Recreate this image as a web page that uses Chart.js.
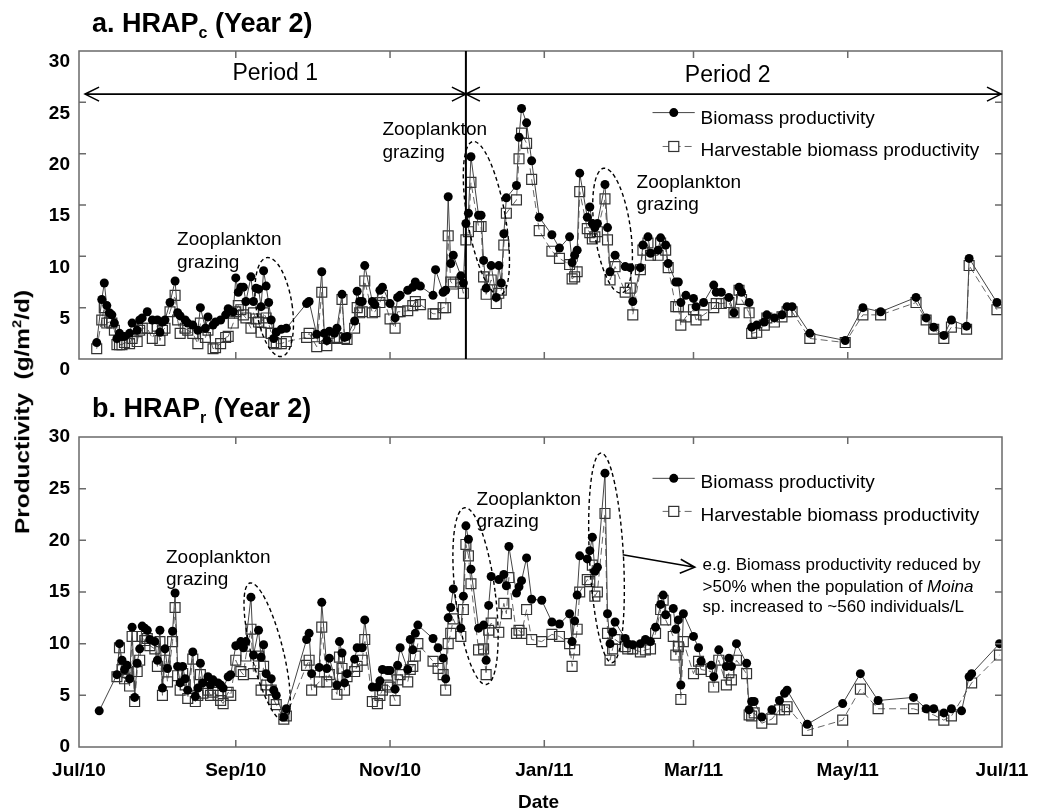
<!DOCTYPE html>
<html>
<head>
<meta charset="utf-8">
<script src="https://cdn.jsdelivr.net/npm/chart.js@4.4.0/dist/chart.umd.min.js"></script>
<style>
  body { margin: 0; background: #fff; }
  #wrap { position: relative; width: 1048px; height: 811px; font-family: Arial, "Liberation Sans", sans-serif; }
  canvas { position: absolute; left: 0; }
  .title { position: absolute; left: 92px; font-weight: bold; font-size: 27px; line-height: 27px; white-space: nowrap; z-index: 2; }
  .title span { font-size: 16px; position: relative; top: 6px; }
  #ytitle { position: absolute; left: 22px; top: 412px; transform: translate(-50%, -50%) rotate(-90deg) scaleX(1.22);
            font-weight: bold; font-size: 20px; white-space: nowrap; z-index: 2; }
  #ytitle sup { font-size: 12px; }
</style>
</head>
<body>
<div id="wrap">
  <div class="title" style="top:10px">a. HRAP<span>c</span> (Year 2)</div>
  <div class="title" style="top:395px">b. HRAP<span>r</span> (Year 2)</div>
  <div id="ytitle">Productivity&nbsp; (g/m<sup>2</sup>/d)</div>
  <canvas id="chartA" width="1048" height="380" style="top:0"></canvas>
  <canvas id="chartB" width="1048" height="431" style="top:380px"></canvas>
</div>
<script>
const FONT = 'Arial, "Liberation Sans", sans-serif';

// x = days since 1 Jul 2010
const tickDays = [0, 62, 123, 184, 243, 304, 365];
const tickLabels = ["Jul/10", "Sep/10", "Nov/10", "Jan/11", "Mar/11", "May/11", "Jul/11"];

// a. HRAPc
const daysA = [7, 9, 10, 11, 12, 13, 14, 15, 16, 17,
  18, 20, 21, 23, 24, 25, 27, 29, 31, 32,
  33, 34, 36, 38, 39, 40, 42, 43, 45, 47,
  48, 50, 51, 53, 54, 56, 58, 59, 61, 62,
  63, 64, 65, 66, 68, 69, 70, 71, 72, 73,
  74, 75, 76, 77, 78, 80, 82, 90, 91, 94,
  96, 97, 98, 99, 101, 102, 104, 105, 106, 109,
  110, 111, 112, 113, 116, 117, 119, 120, 123, 125,
  126, 127, 130, 132, 133, 135, 140, 141, 144, 145,
  146, 147, 148, 151, 152, 153, 154, 155, 158, 159,
  160, 161, 163, 165, 166, 167, 168, 169, 173, 174,
  175, 177, 179, 182, 187, 190, 194, 195, 196, 197,
  198, 201, 202, 203, 204, 205, 208, 209, 210, 212,
  216, 218, 219, 222, 223, 225, 226, 229, 230, 232,
  233, 236, 237, 238, 240, 243, 244, 247, 251, 252,
  254, 257, 259, 261, 262, 265, 266, 268, 271, 272,
  275, 278, 280, 282, 289, 303, 310, 317, 331, 335,
  338, 342, 345, 351, 352, 363];
const bioA = [1.6, 5.8, 7.4, 5.2, 4.5, 4.3, 3.5, 2.0, 2.5, 2.2,
  2.2, 2.5, 3.5, 2.8, 3.8, 4.0, 4.6, 3.8, 3.8, 2.6,
  3.6, 3.8, 5.5, 7.6, 4.5, 4.2, 3.8, 3.5, 3.3, 2.8,
  5.0, 3.0, 4.1, 3.3, 3.6, 3.8, 4.3, 4.9, 4.6, 7.9,
  6.5, 7.0, 7.0, 5.6, 8.0, 5.6, 6.9, 6.8, 5.1, 8.6,
  7.1, 5.5, 3.8, 2.0, 2.6, 2.9, 3.0, 5.4, 5.6, 2.4,
  8.5, 2.5, 1.8, 2.7, 2.5, 3.0, 6.3, 2.1, 2.2, 3.7,
  6.6, 5.6, 5.6, 9.1, 5.6, 5.3, 6.7, 7.0, 5.4, 4.0,
  6.0, 6.2, 6.7, 7.0, 7.5, 7.1, 6.2, 8.7, 6.5, 6.7,
  15.8, 9.3, 10.1, 8.1, 7.4, 13.2, 14.2, 19.7, 14.0, 14.0,
  9.6, 6.9, 9.1, 6.0, 9.1, 7.4, 12.2, 15.7, 16.9, 21.6,
  24.4, 23.0, 19.3, 13.8, 12.1, 10.8, 11.9, 9.4, 10.1, 10.6,
  18.1, 13.8, 14.8, 13.2, 12.8, 13.2, 17.0, 12.8, 8.5, 10.1,
  9.0, 8.9, 5.6, 8.9, 11.1, 11.9, 10.3, 10.6, 11.8, 11.1,
  9.3, 7.5, 7.5, 5.5, 6.2, 5.9, 5.1, 5.5, 7.2, 6.5,
  6.5, 6.0, 4.5, 7.0, 6.5, 5.5, 3.1, 3.3, 3.6, 4.3,
  4.0, 4.3, 5.1, 5.1, 2.5, 1.8, 5.0, 4.6, 6.0, 4.0,
  3.1, 2.3, 3.8, 3.2, 9.8, 5.5];
const harvA = [1.0, 3.8, 5.0, 3.5, 3.6, 3.5, 2.8, 1.4, 1.4, 1.4,
  1.6, 1.5, 2.0, 1.7, 2.8, 3.0, 3.0, 2.0, 3.2, 1.8,
  2.8, 3.0, 4.6, 6.2, 3.8, 2.5, 3.0, 2.8, 2.5, 1.5,
  3.5, 2.1, 2.8, 1.0, 1.1, 1.5, 2.1, 2.2, 3.5, 4.6,
  5.2, 4.8, 4.3, 4.0, 3.0, 4.5, 3.9, 3.6, 2.6, 4.5,
  4.0, 3.5, 2.5, 1.6, 1.5, 1.5, 1.7, 2.1, 2.5, 1.2,
  6.5, 2.0, 1.3, 2.0, 2.0, 2.1, 5.8, 2.0, 1.9, 3.0,
  5.0, 4.5, 4.6, 7.6, 4.5, 4.6, 5.5, 6.2, 3.9, 3.0,
  4.6, 4.6, 4.7, 5.2, 5.6, 5.3, 4.4, 4.4, 5.0, 5.0,
  12.0, 7.5, 7.3, 7.5, 6.4, 11.6, 12.4, 17.2, 12.9, 12.9,
  8.0, 6.3, 7.7, 5.4, 6.4, 6.7, 11.1, 14.2, 15.5, 19.5,
  22.0, 21.0, 17.5, 12.5, 10.5, 9.8, 9.2, 7.8, 8.0, 8.5,
  16.3, 12.7, 12.3, 11.7, 11.9, 12.4, 15.6, 11.6, 7.7, 9.0,
  6.5, 6.9, 4.3, 8.7, 10.6, 11.3, 10.1, 10.1, 11.3, 10.6,
  8.9, 5.1, 5.1, 3.3, 4.1, 4.8, 3.8, 4.3, 5.0, 5.4,
  5.4, 5.5, 4.5, 6.7, 5.8, 4.5, 2.5, 2.6, 3.3, 4.0,
  3.6, 4.1, 4.6, 4.6, 2.0, 1.6, 4.3, 4.3, 5.5, 3.8,
  2.9, 2.0, 3.1, 2.9, 9.1, 4.8];

// b. HRAPr
const daysB = [8, 15, 16, 17, 18, 19, 20, 21, 22, 23,
  24, 25, 26, 27, 28, 30, 31, 32, 33, 34,
  35, 37, 38, 39, 40, 41, 42, 43, 45, 46,
  47, 48, 49, 51, 52, 53, 55, 56, 57, 59,
  60, 62, 64, 65, 66, 68, 69, 71, 72, 73,
  74, 76, 77, 78, 81, 82, 90, 91, 92, 95,
  96, 98, 99, 102, 103, 104, 105, 106, 109, 110,
  112, 113, 116, 118, 119, 120, 122, 123, 125, 126,
  127, 130, 131, 132, 133, 134, 140, 142, 144, 145,
  146, 147, 148, 151, 152, 153, 154, 155, 158, 160,
  161, 162, 163, 166, 168, 169, 170, 173, 174, 175,
  177, 179, 183, 187, 190, 194, 195, 196, 197, 198,
  201, 202, 203, 204, 205, 208, 209, 210, 211, 212,
  216, 217, 219, 222, 224, 226, 228, 230, 231, 232,
  235, 236, 237, 238, 239, 243, 245, 246, 250, 251,
  253, 256, 257, 258, 260, 264, 265, 266, 267, 270,
  274, 277, 279, 280, 288, 302, 309, 316, 330, 335,
  338, 342, 345, 349, 352, 353, 364];
const bioB = [3.5, 7.0, 10.0, 8.4, 7.5, 7.9, 6.6, 11.6, 4.8, 8.1,
  9.5, 11.7, 11.5, 11.3, 10.4, 10.2, 8.4, 11.3, 5.7, 9.5,
  7.6, 11.2, 14.9, 7.8, 6.2, 7.8, 6.6, 5.5, 9.2, 4.9,
  5.7, 8.1, 6.2, 6.8, 6.0, 6.5, 6.2, 6.0, 5.7, 6.8,
  7.0, 9.8, 10.2, 9.6, 10.2, 14.5, 8.9, 11.3, 8.7, 9.9,
  7.1, 6.6, 5.5, 5.0, 2.9, 3.7, 10.4, 11.0, 7.1, 7.7,
  14.0, 7.6, 8.6, 6.0, 10.2, 9.1, 6.2, 7.1, 8.5, 9.6,
  9.6, 12.3, 5.8, 5.8, 6.4, 7.5, 7.4, 7.4, 5.6, 7.9,
  9.6, 7.5, 10.4, 9.4, 11.0, 11.8, 10.5, 9.6, 8.6, 6.6,
  12.5, 13.5, 15.3, 11.5, 14.6, 21.4, 20.1, 17.2, 11.5, 11.8,
  8.4, 13.7, 16.5, 16.2, 16.7, 15.6, 19.4, 14.9, 15.5, 16.1,
  18.3, 14.3, 14.2, 12.1, 11.9, 12.9, 10.2, 12.2, 14.7, 18.5,
  18.2, 19.0, 20.3, 17.0, 17.4, 26.5, 12.9, 10.0, 11.1, 12.1,
  10.5, 10.0, 9.9, 10.0, 10.4, 10.2, 11.6, 13.8, 14.7, 12.8,
  13.4, 11.4, 12.3, 6.0, 12.9, 10.7, 9.6, 8.3, 7.9, 6.8,
  9.4, 7.8, 8.6, 7.8, 10.0, 8.1, 3.6, 4.4, 4.4, 2.9,
  3.6, 4.5, 5.2, 5.5, 2.2, 4.2, 7.1, 4.5, 4.8, 3.7,
  3.7, 3.3, 3.7, 3.5, 6.8, 7.1, 10.0];
const harvB = [null, 6.8, 9.6, 7.5, 6.6, 7.2, 5.9, 10.7, 4.4, 7.3,
  8.4, 10.7, 10.3, 10.5, 9.8, 9.5, 7.8, 10.2, 5.0, 8.4,
  6.3, 10.2, 13.5, 6.9, 5.5, 7.1, 6.0, 4.7, 8.5, 4.4,
  5.0, 7.0, 5.2, 5.5, 5.0, 5.3, 5.0, 4.5, 4.2, 5.3,
  5.0, 8.4, 7.3, 7.0, 8.8, 11.4, 7.1, 8.8, 5.5, 7.8,
  6.0, 5.5, 4.6, 4.1, 2.7, 3.0, 7.9, 8.4, 5.5, 6.3,
  11.6, 6.3, 7.0, 5.1, 8.7, 7.6, 5.5, 6.8, 7.3, 7.8,
  8.4, 10.4, 4.4, 4.2, 5.0, 5.5, 6.0, 5.8, 4.5, 6.5,
  7.0, 6.3, 7.5, 7.8, 8.8, 10.0, 8.3, 7.6, 7.0, 5.5,
  10.0, 11.0, 12.4, 10.7, 13.3, 19.6, 18.5, 15.8, 9.4, 9.5,
  7.0, 11.3, 12.0, 11.1, 13.9, 12.9, 16.4, 11.0, 11.3, 11.0,
  13.3, 10.4, 10.2, 10.9, 10.7, 10.0, 7.8, 9.4, 11.4, 15.0,
  16.2, 16.0, 17.6, 14.6, 15.0, 22.6, 11.0, 8.4, 9.5, 10.4,
  9.7, 9.5, 9.5, 9.2, 9.4, 9.5, 11.0, 13.3, 14.2, 12.3,
  10.7, 8.9, 9.7, 4.6, 10.2, 7.1, 8.3, 7.5, 7.3, 5.8,
  8.4, 6.0, 7.2, 6.5, 8.4, 7.1, 3.1, 3.0, 3.3, 2.3,
  2.7, 3.6, 3.6, 3.9, 1.6, 2.6, 5.6, 3.7, 3.7, null,
  3.1, 2.6, 3.0, null, null, 6.2, 8.9];

function X(ch, d) { return ch.scales.x.getPixelForValue(d); }
function Y(ch, v) { return ch.scales.y.getPixelForValue(v); }

// box with inward ticks
function frame(ch) {
  const c = ch.ctx, a = ch.chartArea;
  c.save();
  c.strokeStyle = "#6a6a6a";
  c.lineWidth = 1.5;
  c.strokeRect(a.left, a.top, a.right - a.left, a.bottom - a.top);
  c.beginPath();
  [5, 10, 15, 20, 25].forEach((v) => {
    const y = Y(ch, v);
    c.moveTo(a.left, y); c.lineTo(a.left + 7, y);
    c.moveTo(a.right, y); c.lineTo(a.right - 7, y);
  });
  tickDays.slice(1, -1).forEach((d) => {
    const x = X(ch, d);
    c.moveTo(x, a.top); c.lineTo(x, a.top + 7);
    c.moveTo(x, a.bottom); c.lineTo(x, a.bottom - 7);
  });
  c.stroke();
  c.restore();
}

function ellipse(ch, d, v, ry, rx, tilt) {
  const c = ch.ctx;
  c.save();
  c.strokeStyle = "#000";
  c.lineWidth = 1.4;
  c.setLineDash([4, 3]);
  c.beginPath();
  c.ellipse(X(ch, d), Y(ch, v), rx, ry, -tilt * Math.PI / 180, 0, 2 * Math.PI);
  c.stroke();
  c.restore();
}

function text(ch, str, d, v, size, align) {
  const c = ch.ctx;
  c.save();
  c.fillStyle = "#000";
  c.font = size + "px " + FONT;
  c.textAlign = align || "left";
  c.textBaseline = "alphabetic";
  c.fillText(str, X(ch, d), Y(ch, v));
  c.restore();
}

function head(c, x, y, dir) {
  c.moveTo(x - dir * 14, y - 7);
  c.lineTo(x, y);
  c.lineTo(x - dir * 14, y + 7);
}

function legend(ch, vLine1, vText1, vLine2, vText2) {
  const c = ch.ctx;
  c.save();
  c.lineWidth = 1;
  c.strokeStyle = "#444";
  c.beginPath();
  c.moveTo(X(ch, 226.8), Y(ch, vLine1)); c.lineTo(X(ch, 243.5), Y(ch, vLine1));
  c.stroke();
  c.fillStyle = "#000";
  c.beginPath();
  c.arc(X(ch, 235.2), Y(ch, vLine1), 4.5, 0, 2 * Math.PI);
  c.fill();
  c.strokeStyle = "#666";
  c.setLineDash([7, 4]);
  c.beginPath();
  c.moveTo(X(ch, 230.8), Y(ch, vLine2)); c.lineTo(X(ch, 243.5), Y(ch, vLine2));
  c.stroke();
  c.setLineDash([]);
  c.fillStyle = "#fff";
  c.strokeStyle = "#333";
  c.lineWidth = 1.2;
  c.fillRect(X(ch, 235.2) - 5, Y(ch, vLine2) - 5, 10, 10);
  c.strokeRect(X(ch, 235.2) - 5, Y(ch, vLine2) - 5, 10, 10);
  c.restore();
  text(ch, "Biomass productivity", 245.8, vText1, 19);
  text(ch, "Harvestable biomass productivity", 245.8, vText2, 19);
}

const decorA = {
  id: "decorA",
  afterDatasetsDraw(ch) {
    const c = ch.ctx, a = ch.chartArea;
    frame(ch);
    // period split
    c.save();
    c.strokeStyle = "#000";
    c.lineWidth = 2;
    c.beginPath();
    c.moveTo(X(ch, 153), a.top); c.lineTo(X(ch, 153), a.bottom);
    c.stroke();
    c.lineWidth = 1.6;
    const yA = Y(ch, 25.8);
    c.beginPath();
    c.moveTo(X(ch, 2.4), yA); c.lineTo(X(ch, 365), yA);
    head(c, X(ch, 2.4), yA, -1);
    head(c, X(ch, 153), yA, 1);
    head(c, X(ch, 153), yA, -1);
    head(c, X(ch, 365) - 1, yA, 1);
    c.stroke();
    c.restore();
    text(ch, "Period 1", 77.6, 27.2, 23, "center");
    text(ch, "Period 2", 256.5, 27.0, 23, "center");
    ellipse(ch, 77.2, 5.06, 50, 18, 8.5);
    ellipse(ch, 161.1, 13.7, 78, 19, 10);
    ellipse(ch, 211, 12.5, 63, 18, 8);
    text(ch, "Zooplankton", 38.8, 11.1, 19);
    text(ch, "grazing", 38.8, 8.9, 19);
    text(ch, "Zooplankton", 120, 21.8, 19);
    text(ch, "grazing", 120, 19.6, 19);
    text(ch, "Zooplankton", 220.5, 16.7, 19);
    text(ch, "grazing", 220.5, 14.5, 19);
    legend(ch, 24.0, 22.9, 20.7, 19.8);
  }
};

const decorB = {
  id: "decorB",
  afterDatasetsDraw(ch) {
    const c = ch.ctx;
    frame(ch);
    ellipse(ch, 74.4, 9.2, 71, 16, 14);
    ellipse(ch, 156.8, 14.6, 89, 20, 7);
    ellipse(ch, 208.6, 18.3, 105, 17, 3);
    text(ch, "Zooplankton", 34.4, 17.8, 19);
    text(ch, "grazing", 34.4, 15.7, 19);
    text(ch, "Zooplankton", 157.2, 23.4, 19);
    text(ch, "grazing", 157.2, 21.3, 19);
    // pointer to the note
    c.save();
    c.strokeStyle = "#000";
    c.lineWidth = 1.6;
    c.beginPath();
    const x0 = X(ch, 215), y0 = Y(ch, 18.6), x1 = X(ch, 243.5), y1 = Y(ch, 17.4);
    c.moveTo(x0, y0); c.lineTo(x1, y1);
    c.moveTo(x1 - 14, y1 - 8); c.lineTo(x1, y1); c.lineTo(x1 - 15, y1 + 6);
    c.stroke();
    c.restore();
    text(ch, "e.g. Biomass productivity reduced by", 246.6, 17.1, 17);
    const lead = ">50% when the population of ";
    text(ch, lead, 246.6, 15.0, 17);
    c.save();
    c.font = "17px " + FONT;
    const w = c.measureText(lead).width;
    c.font = "italic 17px " + FONT;
    c.fillStyle = "#000";
    c.fillText("Moina", X(ch, 246.6) + w, Y(ch, 15.0));
    c.restore();
    text(ch, "sp. increased to ~560 individuals/L", 246.6, 13.1, 17);
    legend(ch, 26.0, 25.1, 22.8, 21.9);
    // axis title
    c.save();
    c.font = "bold 19px " + FONT;
    c.textAlign = "center";
    c.fillStyle = "#000";
    c.fillText("Date", (ch.chartArea.left + ch.chartArea.right) / 2 - 2, 428);
    c.restore();
  }
};

function makeChart(id, days, bio, harv, pad, xHeight, showX, labelOffset, decor) {
  const ctx = document.getElementById(id).getContext("2d");
  return new Chart(ctx, {
    type: "line",
    data: {
      datasets: [
        {
          label: "Biomass productivity",
          data: days.map((d, i) => ({ x: d, y: bio[i] })),
          borderColor: "#454545",
          borderWidth: 1,
          pointStyle: "circle",
          pointRadius: 4.5,
          pointBackgroundColor: "#000",
          pointBorderColor: "#000",
          pointBorderWidth: 0,
          tension: 0
        },
        {
          label: "Harvestable biomass productivity",
          data: days.map((d, i) => ({ x: d, y: harv[i] })),
          borderColor: "#666",
          borderWidth: 1,
          borderDash: [7, 4],
          pointStyle: "rect",
          pointRadius: 7,
          pointBackgroundColor: "rgba(0,0,0,0)",
          pointBorderColor: "#333",
          pointBorderWidth: 1.2,
          spanGaps: true,
          tension: 0
        }
      ]
    },
    options: {
      responsive: false,
      animation: false,
      devicePixelRatio: 1,
      layout: { padding: pad },
      plugins: { legend: { display: false }, tooltip: { enabled: false } },
      scales: {
        x: {
          type: "linear", min: 0, max: 365,
          grid: { display: false, drawTicks: false },
          border: { display: false },
          afterBuildTicks: (s) => { s.ticks = tickDays.map((v) => ({ value: v })); },
          afterFit: (s) => { s.height = xHeight; },
          ticks: {
            display: showX, autoSkip: false, maxRotation: 0, padding: 12, color: "#000",
            font: { family: FONT, size: 19, weight: "bold" },
            callback: (v) => tickLabels[tickDays.indexOf(v)]
          }
        },
        y: {
          min: 0, max: 30,
          grid: { display: false, drawTicks: false },
          border: { display: false },
          afterFit: (s) => { s.width = 79; },
          ticks: {
            stepSize: 5, padding: 9, labelOffset: labelOffset, color: "#000",
            font: { family: FONT, size: 19, weight: "bold" }
          }
        }
      }
    },
    plugins: [decor]
  });
}

makeChart("chartA", daysA, bioA, harvA, { left: 0, right: 46, top: 51, bottom: 0 }, 21, false, 11, decorA);
makeChart("chartB", daysB, bioB, harvB, { left: 0, right: 46, top: 57, bottom: 0 }, 64, true, 0, decorB);
</script>
</body>
</html>
